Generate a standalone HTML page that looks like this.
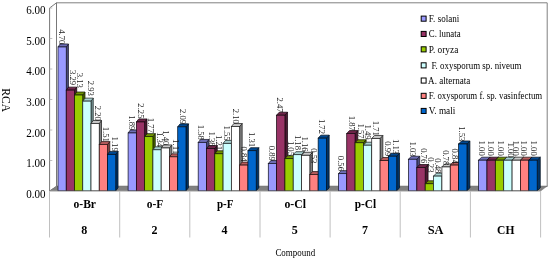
<!DOCTYPE html><html><head><meta charset="utf-8"><style>html,body{margin:0;padding:0;background:#fff;}body{width:550px;height:259px;position:relative;overflow:hidden;font-family:"Liberation Serif",serif;}</style></head><body>
<svg width="550" height="259" viewBox="0 0 550 259" style="position:absolute;left:0;top:0;will-change:transform">
<rect width="550" height="259" fill="#fff"/>
<polygon points="56.5,2.8 547.2,2.8 547.2,186.6 56.5,186.6" fill="#fff" stroke="#808080" stroke-width="1"/>
<polygon points="49.6,8 56.5,2.8 56.5,186.6 49.6,191" fill="#fff" stroke="#787878" stroke-width="1"/>
<line x1="49.6" y1="160.5" x2="52.3" y2="160.5" stroke="#b0b0b0" stroke-width="0.8"/>
<line x1="49.6" y1="130.0" x2="52.3" y2="130.0" stroke="#b0b0b0" stroke-width="0.8"/>
<line x1="49.6" y1="99.5" x2="52.3" y2="99.5" stroke="#b0b0b0" stroke-width="0.8"/>
<line x1="49.6" y1="69.0" x2="52.3" y2="69.0" stroke="#b0b0b0" stroke-width="0.8"/>
<line x1="49.6" y1="38.5" x2="52.3" y2="38.5" stroke="#b0b0b0" stroke-width="0.8"/>
<line x1="49.6" y1="8.0" x2="52.3" y2="8.0" stroke="#b0b0b0" stroke-width="0.8"/>
<polygon points="49.6,191 56.5,186.0 547.2,186.0 540.6,191" fill="#808080" stroke="#707070" stroke-width="0.5"/>
<polygon points="66.25,46.98 68.45,43.98 68.45,187.80 66.25,190.80" fill="#4c4c7f" stroke="#161626" stroke-width="0.75"/>
<polygon points="58.00,46.98 60.20,43.98 68.45,43.98 66.25,46.98" fill="#6e6eb7" stroke="#161626" stroke-width="0.75"/>
<rect x="58.00" y="46.98" width="8.25" height="143.82" fill="#9999FF" stroke="#161626" stroke-width="0.75"/>
<polygon points="74.50,90.13 76.72,87.13 76.72,187.80 74.50,190.80" fill="#4c1933" stroke="#16070f" stroke-width="0.75"/>
<polygon points="66.25,90.13 68.47,87.13 76.72,87.13 74.50,90.13" fill="#6e2449" stroke="#16070f" stroke-width="0.75"/>
<rect x="66.25" y="90.13" width="8.25" height="100.67" fill="#993366" stroke="#16070f" stroke-width="0.75"/>
<polygon points="82.75,95.02 84.98,92.02 84.98,187.80 82.75,190.80" fill="#4c6600" stroke="#161e00" stroke-width="0.75"/>
<polygon points="74.50,95.02 76.73,92.02 84.98,92.02 82.75,95.02" fill="#6e9200" stroke="#161e00" stroke-width="0.75"/>
<rect x="74.50" y="95.02" width="8.25" height="95.78" fill="#99CC00" stroke="#161e00" stroke-width="0.75"/>
<polygon points="91.00,101.14 93.25,98.14 93.25,187.80 91.00,190.80" fill="#7a9999" stroke="#1e2626" stroke-width="0.75"/>
<polygon points="82.75,101.14 85.00,98.14 93.25,98.14 91.00,101.14" fill="#a8d2d2" stroke="#1e2626" stroke-width="0.75"/>
<rect x="82.75" y="101.14" width="8.25" height="89.66" fill="#CCFFFF" stroke="#1e2626" stroke-width="0.75"/>
<polygon points="99.25,123.48 101.51,120.48 101.51,187.80 99.25,190.80" fill="#808080" stroke="#202020" stroke-width="0.75"/>
<polygon points="91.00,123.48 93.26,120.48 101.51,120.48 99.25,123.48" fill="#c8c8c8" stroke="#202020" stroke-width="0.75"/>
<rect x="91.00" y="123.48" width="8.25" height="67.32" fill="#FFFFFF" stroke="#202020" stroke-width="0.75"/>
<polygon points="107.50,144.59 109.78,141.59 109.78,187.80 107.50,190.80" fill="#7f4040" stroke="#261313" stroke-width="0.75"/>
<polygon points="99.25,144.59 101.53,141.59 109.78,141.59 107.50,144.59" fill="#b75c5c" stroke="#261313" stroke-width="0.75"/>
<rect x="99.25" y="144.59" width="8.25" height="46.21" fill="#FF8080" stroke="#261313" stroke-width="0.75"/>
<polygon points="115.75,154.39 118.04,151.39 118.04,187.80 115.75,190.80" fill="#003366" stroke="#000f1e" stroke-width="0.75"/>
<polygon points="107.50,154.39 109.79,151.39 118.04,151.39 115.75,154.39" fill="#004992" stroke="#000f1e" stroke-width="0.75"/>
<rect x="107.50" y="154.39" width="8.25" height="36.41" fill="#0066CC" stroke="#000f1e" stroke-width="0.75"/>
<polygon points="136.37,132.97 138.70,129.97 138.70,187.80 136.37,190.80" fill="#4c4c7f" stroke="#161626" stroke-width="0.75"/>
<polygon points="128.10,132.97 130.43,129.97 138.70,129.97 136.37,132.97" fill="#6e6eb7" stroke="#161626" stroke-width="0.75"/>
<rect x="128.10" y="132.97" width="8.27" height="57.83" fill="#9999FF" stroke="#161626" stroke-width="0.75"/>
<polygon points="144.64,121.95 146.99,118.95 146.99,187.80 144.64,190.80" fill="#4c1933" stroke="#16070f" stroke-width="0.75"/>
<polygon points="136.37,121.95 138.72,118.95 146.99,118.95 144.64,121.95" fill="#6e2449" stroke="#16070f" stroke-width="0.75"/>
<rect x="136.37" y="121.95" width="8.27" height="68.85" fill="#993366" stroke="#16070f" stroke-width="0.75"/>
<polygon points="152.91,136.64 155.27,133.64 155.27,187.80 152.91,190.80" fill="#4c6600" stroke="#161e00" stroke-width="0.75"/>
<polygon points="144.64,136.64 147.00,133.64 155.27,133.64 152.91,136.64" fill="#6e9200" stroke="#161e00" stroke-width="0.75"/>
<rect x="144.64" y="136.64" width="8.27" height="54.16" fill="#99CC00" stroke="#161e00" stroke-width="0.75"/>
<polygon points="161.18,149.80 163.56,146.80 163.56,187.80 161.18,190.80" fill="#7a9999" stroke="#1e2626" stroke-width="0.75"/>
<polygon points="152.91,149.80 155.29,146.80 163.56,146.80 161.18,149.80" fill="#a8d2d2" stroke="#1e2626" stroke-width="0.75"/>
<rect x="152.91" y="149.80" width="8.27" height="41.00" fill="#CCFFFF" stroke="#1e2626" stroke-width="0.75"/>
<polygon points="169.45,147.96 171.85,144.96 171.85,187.80 169.45,190.80" fill="#808080" stroke="#202020" stroke-width="0.75"/>
<polygon points="161.18,147.96 163.58,144.96 171.85,144.96 169.45,147.96" fill="#c8c8c8" stroke="#202020" stroke-width="0.75"/>
<rect x="161.18" y="147.96" width="8.27" height="42.84" fill="#FFFFFF" stroke="#202020" stroke-width="0.75"/>
<polygon points="177.72,156.83 180.13,153.83 180.13,187.80 177.72,190.80" fill="#7f4040" stroke="#261313" stroke-width="0.75"/>
<polygon points="169.45,156.83 171.86,153.83 180.13,153.83 177.72,156.83" fill="#b75c5c" stroke="#261313" stroke-width="0.75"/>
<rect x="169.45" y="156.83" width="8.27" height="33.97" fill="#FF8080" stroke="#261313" stroke-width="0.75"/>
<polygon points="185.99,126.85 188.42,123.85 188.42,187.80 185.99,190.80" fill="#003366" stroke="#000f1e" stroke-width="0.75"/>
<polygon points="177.72,126.85 180.15,123.85 188.42,123.85 185.99,126.85" fill="#004992" stroke="#000f1e" stroke-width="0.75"/>
<rect x="177.72" y="126.85" width="8.27" height="63.95" fill="#0066CC" stroke="#000f1e" stroke-width="0.75"/>
<polygon points="206.49,142.45 208.95,139.45 208.95,187.80 206.49,190.80" fill="#4c4c7f" stroke="#161626" stroke-width="0.75"/>
<polygon points="198.20,142.45 200.66,139.45 208.95,139.45 206.49,142.45" fill="#6e6eb7" stroke="#161626" stroke-width="0.75"/>
<rect x="198.20" y="142.45" width="8.29" height="48.35" fill="#9999FF" stroke="#161626" stroke-width="0.75"/>
<polygon points="214.78,148.57 217.26,145.57 217.26,187.80 214.78,190.80" fill="#4c1933" stroke="#16070f" stroke-width="0.75"/>
<polygon points="206.49,148.57 208.97,145.57 217.26,145.57 214.78,148.57" fill="#6e2449" stroke="#16070f" stroke-width="0.75"/>
<rect x="206.49" y="148.57" width="8.29" height="42.23" fill="#993366" stroke="#16070f" stroke-width="0.75"/>
<polygon points="223.07,153.77 225.57,150.77 225.57,187.80 223.07,190.80" fill="#4c6600" stroke="#161e00" stroke-width="0.75"/>
<polygon points="214.78,153.77 217.28,150.77 225.57,150.77 223.07,153.77" fill="#6e9200" stroke="#161e00" stroke-width="0.75"/>
<rect x="214.78" y="153.77" width="8.29" height="37.03" fill="#99CC00" stroke="#161e00" stroke-width="0.75"/>
<polygon points="231.36,143.37 233.87,140.37 233.87,187.80 231.36,190.80" fill="#7a9999" stroke="#1e2626" stroke-width="0.75"/>
<polygon points="223.07,143.37 225.58,140.37 233.87,140.37 231.36,143.37" fill="#a8d2d2" stroke="#1e2626" stroke-width="0.75"/>
<rect x="223.07" y="143.37" width="8.29" height="47.43" fill="#CCFFFF" stroke="#1e2626" stroke-width="0.75"/>
<polygon points="239.65,126.54 242.18,123.54 242.18,187.80 239.65,190.80" fill="#808080" stroke="#202020" stroke-width="0.75"/>
<polygon points="231.36,126.54 233.89,123.54 242.18,123.54 239.65,126.54" fill="#c8c8c8" stroke="#202020" stroke-width="0.75"/>
<rect x="231.36" y="126.54" width="8.29" height="64.26" fill="#FFFFFF" stroke="#202020" stroke-width="0.75"/>
<polygon points="247.94,165.10 250.48,162.10 250.48,187.80 247.94,190.80" fill="#7f4040" stroke="#261313" stroke-width="0.75"/>
<polygon points="239.65,165.10 242.19,162.10 250.48,162.10 247.94,165.10" fill="#b75c5c" stroke="#261313" stroke-width="0.75"/>
<rect x="239.65" y="165.10" width="8.29" height="25.70" fill="#FF8080" stroke="#261313" stroke-width="0.75"/>
<polygon points="256.23,150.71 258.79,147.71 258.79,187.80 256.23,190.80" fill="#003366" stroke="#000f1e" stroke-width="0.75"/>
<polygon points="247.94,150.71 250.50,147.71 258.79,147.71 256.23,150.71" fill="#004992" stroke="#000f1e" stroke-width="0.75"/>
<rect x="247.94" y="150.71" width="8.29" height="40.09" fill="#0066CC" stroke="#000f1e" stroke-width="0.75"/>
<polygon points="276.61,163.57 279.21,160.57 279.21,187.80 276.61,190.80" fill="#4c4c7f" stroke="#161626" stroke-width="0.75"/>
<polygon points="268.30,163.57 270.90,160.57 279.21,160.57 276.61,163.57" fill="#6e6eb7" stroke="#161626" stroke-width="0.75"/>
<rect x="268.30" y="163.57" width="8.31" height="27.23" fill="#9999FF" stroke="#161626" stroke-width="0.75"/>
<polygon points="284.92,115.22 287.53,112.22 287.53,187.80 284.92,190.80" fill="#4c1933" stroke="#16070f" stroke-width="0.75"/>
<polygon points="276.61,115.22 279.22,112.22 287.53,112.22 284.92,115.22" fill="#6e2449" stroke="#16070f" stroke-width="0.75"/>
<rect x="276.61" y="115.22" width="8.31" height="75.58" fill="#993366" stroke="#16070f" stroke-width="0.75"/>
<polygon points="293.23,158.67 295.86,155.67 295.86,187.80 293.23,190.80" fill="#4c6600" stroke="#161e00" stroke-width="0.75"/>
<polygon points="284.92,158.67 287.55,155.67 295.86,155.67 293.23,158.67" fill="#6e9200" stroke="#161e00" stroke-width="0.75"/>
<rect x="284.92" y="158.67" width="8.31" height="32.13" fill="#99CC00" stroke="#161e00" stroke-width="0.75"/>
<polygon points="301.54,154.69 304.18,151.69 304.18,187.80 301.54,190.80" fill="#7a9999" stroke="#1e2626" stroke-width="0.75"/>
<polygon points="293.23,154.69 295.87,151.69 304.18,151.69 301.54,154.69" fill="#a8d2d2" stroke="#1e2626" stroke-width="0.75"/>
<rect x="293.23" y="154.69" width="8.31" height="36.11" fill="#CCFFFF" stroke="#1e2626" stroke-width="0.75"/>
<polygon points="309.85,155.30 312.51,152.30 312.51,187.80 309.85,190.80" fill="#808080" stroke="#202020" stroke-width="0.75"/>
<polygon points="301.54,155.30 304.20,152.30 312.51,152.30 309.85,155.30" fill="#c8c8c8" stroke="#202020" stroke-width="0.75"/>
<rect x="301.54" y="155.30" width="8.31" height="35.50" fill="#FFFFFF" stroke="#202020" stroke-width="0.75"/>
<polygon points="318.16,174.58 320.83,171.58 320.83,187.80 318.16,190.80" fill="#7f4040" stroke="#261313" stroke-width="0.75"/>
<polygon points="309.85,174.58 312.52,171.58 320.83,171.58 318.16,174.58" fill="#b75c5c" stroke="#261313" stroke-width="0.75"/>
<rect x="309.85" y="174.58" width="8.31" height="16.22" fill="#FF8080" stroke="#261313" stroke-width="0.75"/>
<polygon points="326.47,138.17 329.16,135.17 329.16,187.80 326.47,190.80" fill="#003366" stroke="#000f1e" stroke-width="0.75"/>
<polygon points="318.16,138.17 320.85,135.17 329.16,135.17 326.47,138.17" fill="#004992" stroke="#000f1e" stroke-width="0.75"/>
<rect x="318.16" y="138.17" width="8.31" height="52.63" fill="#0066CC" stroke="#000f1e" stroke-width="0.75"/>
<polygon points="346.73,173.66 349.46,170.66 349.46,187.80 346.73,190.80" fill="#4c4c7f" stroke="#161626" stroke-width="0.75"/>
<polygon points="338.40,173.66 341.13,170.66 349.46,170.66 346.73,173.66" fill="#6e6eb7" stroke="#161626" stroke-width="0.75"/>
<rect x="338.40" y="173.66" width="8.33" height="17.14" fill="#9999FF" stroke="#161626" stroke-width="0.75"/>
<polygon points="355.06,133.58 357.80,130.58 357.80,187.80 355.06,190.80" fill="#4c1933" stroke="#16070f" stroke-width="0.75"/>
<polygon points="346.73,133.58 349.47,130.58 357.80,130.58 355.06,133.58" fill="#6e2449" stroke="#16070f" stroke-width="0.75"/>
<rect x="346.73" y="133.58" width="8.33" height="57.22" fill="#993366" stroke="#16070f" stroke-width="0.75"/>
<polygon points="363.39,142.76 366.15,139.76 366.15,187.80 363.39,190.80" fill="#4c6600" stroke="#161e00" stroke-width="0.75"/>
<polygon points="355.06,142.76 357.82,139.76 366.15,139.76 363.39,142.76" fill="#6e9200" stroke="#161e00" stroke-width="0.75"/>
<rect x="355.06" y="142.76" width="8.33" height="48.04" fill="#99CC00" stroke="#161e00" stroke-width="0.75"/>
<polygon points="371.72,145.21 374.49,142.21 374.49,187.80 371.72,190.80" fill="#7a9999" stroke="#1e2626" stroke-width="0.75"/>
<polygon points="363.39,145.21 366.16,142.21 374.49,142.21 371.72,145.21" fill="#a8d2d2" stroke="#1e2626" stroke-width="0.75"/>
<rect x="363.39" y="145.21" width="8.33" height="45.59" fill="#CCFFFF" stroke="#1e2626" stroke-width="0.75"/>
<polygon points="380.05,138.47 382.84,135.47 382.84,187.80 380.05,190.80" fill="#808080" stroke="#202020" stroke-width="0.75"/>
<polygon points="371.72,138.47 374.51,135.47 382.84,135.47 380.05,138.47" fill="#c8c8c8" stroke="#202020" stroke-width="0.75"/>
<rect x="371.72" y="138.47" width="8.33" height="52.33" fill="#FFFFFF" stroke="#202020" stroke-width="0.75"/>
<polygon points="388.38,160.51 391.19,157.51 391.19,187.80 388.38,190.80" fill="#7f4040" stroke="#261313" stroke-width="0.75"/>
<polygon points="380.05,160.51 382.86,157.51 391.19,157.51 388.38,160.51" fill="#b75c5c" stroke="#261313" stroke-width="0.75"/>
<rect x="380.05" y="160.51" width="8.33" height="30.29" fill="#FF8080" stroke="#261313" stroke-width="0.75"/>
<polygon points="396.71,156.22 399.53,153.22 399.53,187.80 396.71,190.80" fill="#003366" stroke="#000f1e" stroke-width="0.75"/>
<polygon points="388.38,156.22 391.20,153.22 399.53,153.22 396.71,156.22" fill="#004992" stroke="#000f1e" stroke-width="0.75"/>
<rect x="388.38" y="156.22" width="8.33" height="34.58" fill="#0066CC" stroke="#000f1e" stroke-width="0.75"/>
<polygon points="416.85,159.28 419.71,156.28 419.71,187.80 416.85,190.80" fill="#4c4c7f" stroke="#161626" stroke-width="0.75"/>
<polygon points="408.50,159.28 411.36,156.28 419.71,156.28 416.85,159.28" fill="#6e6eb7" stroke="#161626" stroke-width="0.75"/>
<rect x="408.50" y="159.28" width="8.35" height="31.52" fill="#9999FF" stroke="#161626" stroke-width="0.75"/>
<polygon points="425.20,167.54 428.07,164.54 428.07,187.80 425.20,190.80" fill="#4c1933" stroke="#16070f" stroke-width="0.75"/>
<polygon points="416.85,167.54 419.72,164.54 428.07,164.54 425.20,167.54" fill="#6e2449" stroke="#16070f" stroke-width="0.75"/>
<rect x="416.85" y="167.54" width="8.35" height="23.26" fill="#993366" stroke="#16070f" stroke-width="0.75"/>
<polygon points="433.55,183.76 436.44,180.76 436.44,187.80 433.55,190.80" fill="#4c6600" stroke="#161e00" stroke-width="0.75"/>
<polygon points="425.20,183.76 428.09,180.76 436.44,180.76 433.55,183.76" fill="#6e9200" stroke="#161e00" stroke-width="0.75"/>
<rect x="425.20" y="183.76" width="8.35" height="7.04" fill="#99CC00" stroke="#161e00" stroke-width="0.75"/>
<polygon points="441.90,176.11 444.81,173.11 444.81,187.80 441.90,190.80" fill="#7a9999" stroke="#1e2626" stroke-width="0.75"/>
<polygon points="433.55,176.11 436.46,173.11 444.81,173.11 441.90,176.11" fill="#a8d2d2" stroke="#1e2626" stroke-width="0.75"/>
<rect x="433.55" y="176.11" width="8.35" height="14.69" fill="#CCFFFF" stroke="#1e2626" stroke-width="0.75"/>
<polygon points="450.25,166.93 453.17,163.93 453.17,187.80 450.25,190.80" fill="#808080" stroke="#202020" stroke-width="0.75"/>
<polygon points="441.90,166.93 444.82,163.93 453.17,163.93 450.25,166.93" fill="#c8c8c8" stroke="#202020" stroke-width="0.75"/>
<rect x="441.90" y="166.93" width="8.35" height="23.87" fill="#FFFFFF" stroke="#202020" stroke-width="0.75"/>
<polygon points="458.60,165.10 461.54,162.10 461.54,187.80 458.60,190.80" fill="#7f4040" stroke="#261313" stroke-width="0.75"/>
<polygon points="450.25,165.10 453.19,162.10 461.54,162.10 458.60,165.10" fill="#b75c5c" stroke="#261313" stroke-width="0.75"/>
<rect x="450.25" y="165.10" width="8.35" height="25.70" fill="#FF8080" stroke="#261313" stroke-width="0.75"/>
<polygon points="466.95,143.98 469.90,140.98 469.90,187.80 466.95,190.80" fill="#003366" stroke="#000f1e" stroke-width="0.75"/>
<polygon points="458.60,143.98 461.55,140.98 469.90,140.98 466.95,143.98" fill="#004992" stroke="#000f1e" stroke-width="0.75"/>
<rect x="458.60" y="143.98" width="8.35" height="46.82" fill="#0066CC" stroke="#000f1e" stroke-width="0.75"/>
<polygon points="486.97,160.20 489.96,157.20 489.96,187.80 486.97,190.80" fill="#4c4c7f" stroke="#161626" stroke-width="0.75"/>
<polygon points="478.60,160.20 481.59,157.20 489.96,157.20 486.97,160.20" fill="#6e6eb7" stroke="#161626" stroke-width="0.75"/>
<rect x="478.60" y="160.20" width="8.37" height="30.60" fill="#9999FF" stroke="#161626" stroke-width="0.75"/>
<polygon points="495.34,160.20 498.35,157.20 498.35,187.80 495.34,190.80" fill="#4c1933" stroke="#16070f" stroke-width="0.75"/>
<polygon points="486.97,160.20 489.98,157.20 498.35,157.20 495.34,160.20" fill="#6e2449" stroke="#16070f" stroke-width="0.75"/>
<rect x="486.97" y="160.20" width="8.37" height="30.60" fill="#993366" stroke="#16070f" stroke-width="0.75"/>
<polygon points="503.71,160.20 506.73,157.20 506.73,187.80 503.71,190.80" fill="#4c6600" stroke="#161e00" stroke-width="0.75"/>
<polygon points="495.34,160.20 498.36,157.20 506.73,157.20 503.71,160.20" fill="#6e9200" stroke="#161e00" stroke-width="0.75"/>
<rect x="495.34" y="160.20" width="8.37" height="30.60" fill="#99CC00" stroke="#161e00" stroke-width="0.75"/>
<polygon points="512.08,160.20 515.12,157.20 515.12,187.80 512.08,190.80" fill="#7a9999" stroke="#1e2626" stroke-width="0.75"/>
<polygon points="503.71,160.20 506.75,157.20 515.12,157.20 512.08,160.20" fill="#a8d2d2" stroke="#1e2626" stroke-width="0.75"/>
<rect x="503.71" y="160.20" width="8.37" height="30.60" fill="#CCFFFF" stroke="#1e2626" stroke-width="0.75"/>
<polygon points="520.45,160.20 523.50,157.20 523.50,187.80 520.45,190.80" fill="#808080" stroke="#202020" stroke-width="0.75"/>
<polygon points="512.08,160.20 515.13,157.20 523.50,157.20 520.45,160.20" fill="#c8c8c8" stroke="#202020" stroke-width="0.75"/>
<rect x="512.08" y="160.20" width="8.37" height="30.60" fill="#FFFFFF" stroke="#202020" stroke-width="0.75"/>
<polygon points="528.82,160.20 531.89,157.20 531.89,187.80 528.82,190.80" fill="#7f4040" stroke="#261313" stroke-width="0.75"/>
<polygon points="520.45,160.20 523.52,157.20 531.89,157.20 528.82,160.20" fill="#b75c5c" stroke="#261313" stroke-width="0.75"/>
<rect x="520.45" y="160.20" width="8.37" height="30.60" fill="#FF8080" stroke="#261313" stroke-width="0.75"/>
<polygon points="537.19,160.20 540.27,157.20 540.27,187.80 537.19,190.80" fill="#003366" stroke="#000f1e" stroke-width="0.75"/>
<polygon points="528.82,160.20 531.90,157.20 540.27,157.20 537.19,160.20" fill="#004992" stroke="#000f1e" stroke-width="0.75"/>
<rect x="528.82" y="160.20" width="8.37" height="30.60" fill="#0066CC" stroke="#000f1e" stroke-width="0.75"/>
<text transform="translate(59.12,44.28) rotate(90)" text-anchor="end" textLength="15.1" lengthAdjust="spacingAndGlyphs" font-family="Liberation Serif, serif" font-size="9" fill="#1a1a1a">4.70</text>
<text transform="translate(70.17,85.03) rotate(90)" text-anchor="end" textLength="15.1" lengthAdjust="spacingAndGlyphs" font-family="Liberation Serif, serif" font-size="9" fill="#1a1a1a">3.29</text>
<text transform="translate(77.22,87.82) rotate(90)" text-anchor="end" textLength="15.1" lengthAdjust="spacingAndGlyphs" font-family="Liberation Serif, serif" font-size="9" fill="#1a1a1a">3.13</text>
<text transform="translate(87.78,95.84) rotate(90)" text-anchor="end" textLength="15.1" lengthAdjust="spacingAndGlyphs" font-family="Liberation Serif, serif" font-size="9" fill="#1a1a1a">2.93</text>
<text transform="translate(94.72,120.78) rotate(90)" text-anchor="end" textLength="15.1" lengthAdjust="spacingAndGlyphs" font-family="Liberation Serif, serif" font-size="9" fill="#1a1a1a">2.20</text>
<text transform="translate(102.97,141.89) rotate(90)" text-anchor="end" textLength="15.1" lengthAdjust="spacingAndGlyphs" font-family="Liberation Serif, serif" font-size="9" fill="#1a1a1a">1.51</text>
<text transform="translate(112.12,151.69) rotate(90)" text-anchor="end" textLength="15.1" lengthAdjust="spacingAndGlyphs" font-family="Liberation Serif, serif" font-size="9" fill="#1a1a1a">1.19</text>
<text transform="translate(129.23,130.27) rotate(90)" text-anchor="end" textLength="15.1" lengthAdjust="spacingAndGlyphs" font-family="Liberation Serif, serif" font-size="9" fill="#1a1a1a">1.89</text>
<text transform="translate(138.10,118.45) rotate(90)" text-anchor="end" textLength="15.1" lengthAdjust="spacingAndGlyphs" font-family="Liberation Serif, serif" font-size="9" fill="#1a1a1a">2.25</text>
<text transform="translate(148.07,132.94) rotate(90)" text-anchor="end" textLength="15.1" lengthAdjust="spacingAndGlyphs" font-family="Liberation Serif, serif" font-size="9" fill="#1a1a1a">1.77</text>
<text transform="translate(156.94,147.10) rotate(90)" text-anchor="end" textLength="15.1" lengthAdjust="spacingAndGlyphs" font-family="Liberation Serif, serif" font-size="9" fill="#1a1a1a">1.34</text>
<text transform="translate(162.81,145.26) rotate(90)" text-anchor="end" textLength="15.1" lengthAdjust="spacingAndGlyphs" font-family="Liberation Serif, serif" font-size="9" fill="#1a1a1a">1.40</text>
<text transform="translate(172.58,154.13) rotate(90)" text-anchor="end" textLength="15.1" lengthAdjust="spacingAndGlyphs" font-family="Liberation Serif, serif" font-size="9" fill="#1a1a1a">1.11</text>
<text transform="translate(179.95,124.15) rotate(90)" text-anchor="end" textLength="15.1" lengthAdjust="spacingAndGlyphs" font-family="Liberation Serif, serif" font-size="9" fill="#1a1a1a">2.09</text>
<text transform="translate(198.44,139.75) rotate(90)" text-anchor="end" textLength="15.1" lengthAdjust="spacingAndGlyphs" font-family="Liberation Serif, serif" font-size="9" fill="#1a1a1a">1.58</text>
<text transform="translate(209.03,146.57) rotate(90)" text-anchor="end" textLength="15.1" lengthAdjust="spacingAndGlyphs" font-family="Liberation Serif, serif" font-size="9" fill="#1a1a1a">1.38</text>
<text transform="translate(216.32,150.07) rotate(90)" text-anchor="end" textLength="15.1" lengthAdjust="spacingAndGlyphs" font-family="Liberation Serif, serif" font-size="9" fill="#1a1a1a">1.21</text>
<text transform="translate(224.41,140.67) rotate(90)" text-anchor="end" textLength="15.1" lengthAdjust="spacingAndGlyphs" font-family="Liberation Serif, serif" font-size="9" fill="#1a1a1a">1.55</text>
<text transform="translate(232.50,123.84) rotate(90)" text-anchor="end" textLength="15.1" lengthAdjust="spacingAndGlyphs" font-family="Liberation Serif, serif" font-size="9" fill="#1a1a1a">2.10</text>
<text transform="translate(241.19,161.60) rotate(90)" text-anchor="end" textLength="15.1" lengthAdjust="spacingAndGlyphs" font-family="Liberation Serif, serif" font-size="9" fill="#1a1a1a">0.84</text>
<text transform="translate(249.49,147.01) rotate(90)" text-anchor="end" textLength="15.1" lengthAdjust="spacingAndGlyphs" font-family="Liberation Serif, serif" font-size="9" fill="#1a1a1a">1.31</text>
<text transform="translate(268.65,160.87) rotate(90)" text-anchor="end" textLength="15.1" lengthAdjust="spacingAndGlyphs" font-family="Liberation Serif, serif" font-size="9" fill="#1a1a1a">0.89</text>
<text transform="translate(276.96,112.52) rotate(90)" text-anchor="end" textLength="15.1" lengthAdjust="spacingAndGlyphs" font-family="Liberation Serif, serif" font-size="9" fill="#1a1a1a">2.47</text>
<text transform="translate(287.67,155.97) rotate(90)" text-anchor="end" textLength="15.1" lengthAdjust="spacingAndGlyphs" font-family="Liberation Serif, serif" font-size="9" fill="#1a1a1a">1.05</text>
<text transform="translate(294.78,149.99) rotate(90)" text-anchor="end" textLength="15.1" lengthAdjust="spacingAndGlyphs" font-family="Liberation Serif, serif" font-size="9" fill="#1a1a1a">1.18</text>
<text transform="translate(302.39,151.60) rotate(90)" text-anchor="end" textLength="15.1" lengthAdjust="spacingAndGlyphs" font-family="Liberation Serif, serif" font-size="9" fill="#1a1a1a">1.16</text>
<text transform="translate(311.20,163.38) rotate(90)" text-anchor="end" textLength="15.1" lengthAdjust="spacingAndGlyphs" font-family="Liberation Serif, serif" font-size="9" fill="#1a1a1a">0.53</text>
<text transform="translate(319.21,133.97) rotate(90)" text-anchor="end" textLength="15.1" lengthAdjust="spacingAndGlyphs" font-family="Liberation Serif, serif" font-size="9" fill="#1a1a1a">1.72</text>
<text transform="translate(338.17,170.96) rotate(90)" text-anchor="end" textLength="15.1" lengthAdjust="spacingAndGlyphs" font-family="Liberation Serif, serif" font-size="9" fill="#1a1a1a">0.56</text>
<text transform="translate(348.50,130.88) rotate(90)" text-anchor="end" textLength="15.1" lengthAdjust="spacingAndGlyphs" font-family="Liberation Serif, serif" font-size="9" fill="#1a1a1a">1.87</text>
<text transform="translate(357.62,138.56) rotate(90)" text-anchor="end" textLength="15.1" lengthAdjust="spacingAndGlyphs" font-family="Liberation Serif, serif" font-size="9" fill="#1a1a1a">1.57</text>
<text transform="translate(365.45,139.51) rotate(90)" text-anchor="end" textLength="15.1" lengthAdjust="spacingAndGlyphs" font-family="Liberation Serif, serif" font-size="9" fill="#1a1a1a">1.49</text>
<text transform="translate(373.28,135.77) rotate(90)" text-anchor="end" textLength="15.1" lengthAdjust="spacingAndGlyphs" font-family="Liberation Serif, serif" font-size="9" fill="#1a1a1a">1.71</text>
<text transform="translate(385.01,156.41) rotate(90)" text-anchor="end" textLength="15.1" lengthAdjust="spacingAndGlyphs" font-family="Liberation Serif, serif" font-size="9" fill="#1a1a1a">0.99</text>
<text transform="translate(393.05,154.02) rotate(90)" text-anchor="end" textLength="15.1" lengthAdjust="spacingAndGlyphs" font-family="Liberation Serif, serif" font-size="9" fill="#1a1a1a">1.13</text>
<text transform="translate(409.57,156.58) rotate(90)" text-anchor="end" textLength="15.1" lengthAdjust="spacingAndGlyphs" font-family="Liberation Serif, serif" font-size="9" fill="#1a1a1a">1.03</text>
<text transform="translate(420.53,163.24) rotate(90)" text-anchor="end" textLength="15.1" lengthAdjust="spacingAndGlyphs" font-family="Liberation Serif, serif" font-size="9" fill="#1a1a1a">0.76</text>
<text transform="translate(427.57,172.46) rotate(90)" text-anchor="end" textLength="15.1" lengthAdjust="spacingAndGlyphs" font-family="Liberation Serif, serif" font-size="9" fill="#1a1a1a">0.23</text>
<text transform="translate(434.93,173.41) rotate(90)" text-anchor="end" textLength="15.1" lengthAdjust="spacingAndGlyphs" font-family="Liberation Serif, serif" font-size="9" fill="#1a1a1a">0.48</text>
<text transform="translate(443.18,165.23) rotate(90)" text-anchor="end" textLength="15.1" lengthAdjust="spacingAndGlyphs" font-family="Liberation Serif, serif" font-size="9" fill="#1a1a1a">0.78</text>
<text transform="translate(451.93,163.70) rotate(90)" text-anchor="end" textLength="15.1" lengthAdjust="spacingAndGlyphs" font-family="Liberation Serif, serif" font-size="9" fill="#1a1a1a">0.84</text>
<text transform="translate(459.08,141.28) rotate(90)" text-anchor="end" textLength="15.1" lengthAdjust="spacingAndGlyphs" font-family="Liberation Serif, serif" font-size="9" fill="#1a1a1a">1.53</text>
<text transform="translate(479.38,155.70) rotate(90)" text-anchor="end" textLength="15.1" lengthAdjust="spacingAndGlyphs" font-family="Liberation Serif, serif" font-size="9" fill="#1a1a1a">1.00</text>
<text transform="translate(488.15,155.70) rotate(90)" text-anchor="end" textLength="15.1" lengthAdjust="spacingAndGlyphs" font-family="Liberation Serif, serif" font-size="9" fill="#1a1a1a">1.00</text>
<text transform="translate(498.32,155.70) rotate(90)" text-anchor="end" textLength="15.1" lengthAdjust="spacingAndGlyphs" font-family="Liberation Serif, serif" font-size="9" fill="#1a1a1a">1.00</text>
<text transform="translate(507.79,157.50) rotate(90)" text-anchor="end" textLength="15.1" lengthAdjust="spacingAndGlyphs" font-family="Liberation Serif, serif" font-size="9" fill="#1a1a1a">1.00</text>
<text transform="translate(513.26,155.70) rotate(90)" text-anchor="end" textLength="15.1" lengthAdjust="spacingAndGlyphs" font-family="Liberation Serif, serif" font-size="9" fill="#1a1a1a">1.00</text>
<text transform="translate(521.33,155.70) rotate(90)" text-anchor="end" textLength="15.1" lengthAdjust="spacingAndGlyphs" font-family="Liberation Serif, serif" font-size="9" fill="#1a1a1a">1.00</text>
<text transform="translate(531.00,155.70) rotate(90)" text-anchor="end" textLength="15.1" lengthAdjust="spacingAndGlyphs" font-family="Liberation Serif, serif" font-size="9" fill="#1a1a1a">1.00</text>
<line x1="49.6" y1="191.3" x2="540.6" y2="191.3" stroke="#cccccc" stroke-width="1"/>
<line x1="49.5" y1="191" x2="49.5" y2="237.5" stroke="#c0c0c0" stroke-width="1"/>
<line x1="119.7" y1="191" x2="119.7" y2="237.5" stroke="#c0c0c0" stroke-width="1"/>
<line x1="189.8" y1="191" x2="189.8" y2="237.5" stroke="#c0c0c0" stroke-width="1"/>
<line x1="260.0" y1="191" x2="260.0" y2="237.5" stroke="#c0c0c0" stroke-width="1"/>
<line x1="330.1" y1="191" x2="330.1" y2="237.5" stroke="#c0c0c0" stroke-width="1"/>
<line x1="400.2" y1="191" x2="400.2" y2="237.5" stroke="#c0c0c0" stroke-width="1"/>
<line x1="470.4" y1="191" x2="470.4" y2="237.5" stroke="#c0c0c0" stroke-width="1"/>
<line x1="540.6" y1="191" x2="540.6" y2="237.5" stroke="#c0c0c0" stroke-width="1"/>
<text x="26.2" y="197.9" textLength="19.3" lengthAdjust="spacingAndGlyphs" font-family="Liberation Serif, serif" font-size="12.3" fill="#000">0.00</text>
<text x="26.2" y="167.2" textLength="19.3" lengthAdjust="spacingAndGlyphs" font-family="Liberation Serif, serif" font-size="12.3" fill="#000">1.00</text>
<text x="26.2" y="136.5" textLength="19.3" lengthAdjust="spacingAndGlyphs" font-family="Liberation Serif, serif" font-size="12.3" fill="#000">2.00</text>
<text x="26.2" y="105.9" textLength="19.3" lengthAdjust="spacingAndGlyphs" font-family="Liberation Serif, serif" font-size="12.3" fill="#000">3.00</text>
<text x="26.2" y="75.2" textLength="19.3" lengthAdjust="spacingAndGlyphs" font-family="Liberation Serif, serif" font-size="12.3" fill="#000">4.00</text>
<text x="26.2" y="44.5" textLength="19.3" lengthAdjust="spacingAndGlyphs" font-family="Liberation Serif, serif" font-size="12.3" fill="#000">5.00</text>
<text x="26.2" y="13.8" textLength="19.3" lengthAdjust="spacingAndGlyphs" font-family="Liberation Serif, serif" font-size="12.3" fill="#000">6.00</text>
<text transform="translate(2.4,88.2) rotate(90)" textLength="23.8" lengthAdjust="spacingAndGlyphs" font-family="Liberation Serif, serif" font-size="12.4" fill="#000">RCA</text>
<text x="73.5" y="207.8" textLength="22.5" lengthAdjust="spacingAndGlyphs" font-family="Liberation Serif, serif" font-weight="bold" font-size="12" fill="#000">o-Br</text>
<text x="84.3" y="234" text-anchor="middle" font-family="Liberation Serif, serif" font-weight="bold" font-size="12" fill="#000">8</text>
<text x="146.7" y="207.8" textLength="16.5" lengthAdjust="spacingAndGlyphs" font-family="Liberation Serif, serif" font-weight="bold" font-size="12" fill="#000">o-F</text>
<text x="154.4" y="234" text-anchor="middle" font-family="Liberation Serif, serif" font-weight="bold" font-size="12" fill="#000">2</text>
<text x="216.9" y="207.8" textLength="16.5" lengthAdjust="spacingAndGlyphs" font-family="Liberation Serif, serif" font-weight="bold" font-size="12" fill="#000">p-F</text>
<text x="224.6" y="234" text-anchor="middle" font-family="Liberation Serif, serif" font-weight="bold" font-size="12" fill="#000">4</text>
<text x="284.5" y="207.8" textLength="21.5" lengthAdjust="spacingAndGlyphs" font-family="Liberation Serif, serif" font-weight="bold" font-size="12" fill="#000">o-Cl</text>
<text x="294.8" y="234" text-anchor="middle" font-family="Liberation Serif, serif" font-weight="bold" font-size="12" fill="#000">5</text>
<text x="354.7" y="207.8" textLength="21.5" lengthAdjust="spacingAndGlyphs" font-family="Liberation Serif, serif" font-weight="bold" font-size="12" fill="#000">p-Cl</text>
<text x="364.9" y="234" text-anchor="middle" font-family="Liberation Serif, serif" font-weight="bold" font-size="12" fill="#000">7</text>
<text x="427.7" y="234.3" textLength="15.8" lengthAdjust="spacingAndGlyphs" font-family="Liberation Serif, serif" font-weight="bold" font-size="12.5" fill="#000">SA</text>
<text x="497.1" y="234.3" textLength="17.3" lengthAdjust="spacingAndGlyphs" font-family="Liberation Serif, serif" font-weight="bold" font-size="12.5" fill="#000">CH</text>
<text x="275.4" y="255.5" textLength="39.8" lengthAdjust="spacingAndGlyphs" font-family="Liberation Serif, serif" font-size="10.6" fill="#000">Compound</text>
<rect x="417" y="9" width="128" height="110" fill="#fff"/>
<rect x="421.2" y="16.1" width="4.9" height="5.1" fill="#9999FF" stroke="#000" stroke-width="1"/>
<text x="428.8" y="21.8" textLength="30.5" lengthAdjust="spacingAndGlyphs" font-family="Liberation Serif, serif" font-size="10.2" fill="#000">F. solani</text>
<rect x="421.2" y="31.4" width="4.9" height="5.1" fill="#993366" stroke="#000" stroke-width="1"/>
<text x="428.8" y="37.1" textLength="31.8" lengthAdjust="spacingAndGlyphs" font-family="Liberation Serif, serif" font-size="10.2" fill="#000">C. lunata</text>
<rect x="421.2" y="46.8" width="4.9" height="5.1" fill="#99CC00" stroke="#000" stroke-width="1"/>
<text x="428.8" y="52.5" textLength="29.5" lengthAdjust="spacingAndGlyphs" font-family="Liberation Serif, serif" font-size="10.2" fill="#000">P. oryza</text>
<rect x="421.2" y="62.8" width="4.9" height="5.1" fill="#CCFFFF" stroke="#000" stroke-width="1"/>
<text x="431.4" y="68.5" textLength="89.9" lengthAdjust="spacingAndGlyphs" font-family="Liberation Serif, serif" font-size="10.2" fill="#000">F. oxysporum sp. niveum</text>
<rect x="421.2" y="78.0" width="4.9" height="5.1" fill="#FFFFFF" stroke="#000" stroke-width="1"/>
<text x="428.1" y="83.7" textLength="42.2" lengthAdjust="spacingAndGlyphs" font-family="Liberation Serif, serif" font-size="10.2" fill="#000">A. alternata</text>
<rect x="421.2" y="93.3" width="4.9" height="5.1" fill="#FF8080" stroke="#000" stroke-width="1"/>
<text x="428.8" y="99.0" textLength="113.4" lengthAdjust="spacingAndGlyphs" font-family="Liberation Serif, serif" font-size="10.2" fill="#000">F. oxysporum f. sp. vasinfectum</text>
<rect x="421.2" y="108.4" width="4.9" height="5.1" fill="#0066CC" stroke="#000" stroke-width="1"/>
<text x="428.8" y="114.1" textLength="26.5" lengthAdjust="spacingAndGlyphs" font-family="Liberation Serif, serif" font-size="10.2" fill="#000">V. mali</text>
</svg>
</body></html>
